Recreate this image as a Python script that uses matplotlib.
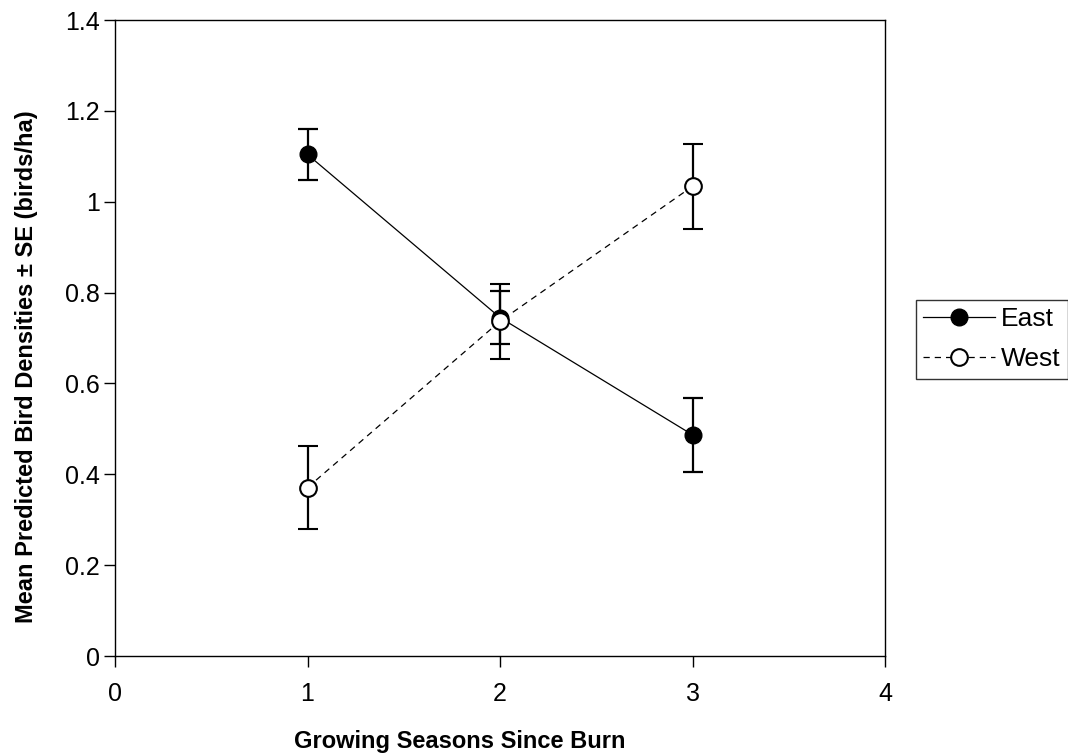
import matplotlib
matplotlib.use("Agg")
import matplotlib.pyplot as plt
from matplotlib.lines import Line2D

plt.rcParams['font.family'] = ['Liberation Sans', 'DejaVu Sans']

seasons = [1, 2, 3]
east_mean = [1.104, 0.745, 0.487]
east_se = [0.057, 0.058, 0.081]
west_mean = [0.371, 0.737, 1.034]
west_se = [0.092, 0.083, 0.094]

xticks = [0, 1, 2, 3, 4]
yticks = [0, 0.2, 0.4, 0.6, 0.8, 1.0, 1.2, 1.4]
yticklabels = ['0', '0.2', '0.4', '0.6', '0.8', '1', '1.2', '1.4']

fig = plt.figure(figsize=(10.68, 7.55), dpi=100)
ax = fig.add_axes([0.1077, 0.131, 0.721, 0.8425])

ax.errorbar(seasons, east_mean, yerr=east_se, color='black', linestyle='-', linewidth=0.9,
            marker='o', markersize=12, markerfacecolor='black', markeredgecolor='black',
            ecolor='black', elinewidth=1.6, capsize=7, capthick=1.6, label='East', zorder=3)
ax.errorbar(seasons, west_mean, yerr=west_se, color='black', linestyle=(0, (5, 4)), linewidth=0.9,
            marker='o', markersize=12, markerfacecolor='white', markeredgecolor='black',
            markeredgewidth=1.5, ecolor='black', elinewidth=1.6, capsize=7, capthick=1.6,
            label='West', zorder=4)

ax.set_xlim(0, 4)
ax.set_ylim(0, 1.4)
ax.set_xticks(xticks)
ax.set_xticklabels([str(t) for t in xticks])
ax.set_yticks(yticks)
ax.set_yticklabels(yticklabels)
ax.tick_params(direction='out', length=8, width=1, labelsize=18)
ax.tick_params(axis='y', pad=3)
ax.tick_params(axis='x', pad=11)
for s in ax.spines.values():
    s.set_linewidth(1)

ax.set_xlabel('Growing Seasons Since Burn', fontsize=17, fontweight='bold')
ax.xaxis.set_label_coords(0.448, -0.116)
ax.set_ylabel('Mean Predicted Bird Densities \u00b1 SE (birds/ha)', fontsize=17,
              fontweight='bold')
ax.yaxis.set_label_coords(-0.1, 0.455)

h_e = Line2D([], [], color='black', linestyle='-', linewidth=0.9, marker='o', markersize=12,
             markerfacecolor='black', markeredgecolor='black')
h_w = Line2D([], [], color='black', linestyle=(0, (5, 4)), linewidth=0.9, marker='o', markersize=12,
             markerfacecolor='white', markeredgecolor='black', markeredgewidth=1.5)
leg = fig.legend([h_e, h_w], ['East', 'West'], loc='upper left',
                 bbox_to_anchor=(916 / 1068, 1 - 300 / 755), fontsize=19,
                 frameon=True, fancybox=False, edgecolor='black', handlelength=2.73,
                 handletextpad=0.2, borderpad=0.28, labelspacing=0.6, borderaxespad=0)
leg.get_frame().set_linewidth(1)

fig.savefig('out.png', dpi=100)
